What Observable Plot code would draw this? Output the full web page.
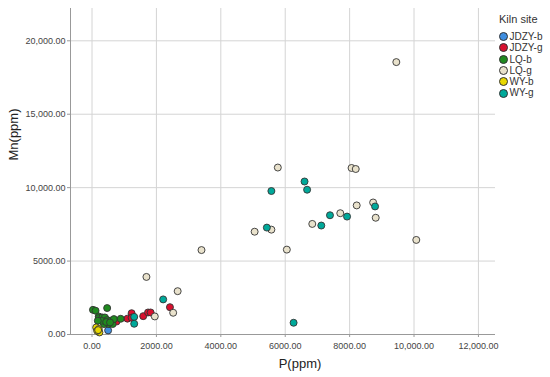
<!DOCTYPE html>
<html>
<head>
<meta charset="utf-8">
<script src="https://cdn.jsdelivr.net/npm/d3@7"></script>
<script src="https://cdn.jsdelivr.net/npm/@observablehq/plot@0.6"></script>
<style>
  html, body { margin: 0; padding: 0; background: #fff; }
  #wrap { position: relative; width: 550px; height: 377px; font-family: "Liberation Sans", Arial, sans-serif; }
  #legend { position: absolute; left: 499px; top: 13px; color: #333; }
  #legend .title { font-size: 11px; margin-bottom: 6px; }
  #legend .item { font-size: 10px; height: 11.3px; line-height: 11.3px; display: flex; align-items: center; }
  #legend .sw { width: 7px; height: 7px; border: 1px solid #333; border-radius: 50%; margin-right: 1.5px; box-sizing: content-box; }
</style>
</head>
<body>
<div id="wrap"></div>
<script>
// ---- data ----
const sites = ["JDZY-b", "JDZY-g", "LQ-b", "LQ-g", "WY-b", "WY-g"];
const siteColors = ["#3f8ee0", "#d8102e", "#1f8a1f", "#e9e2cc", "#e8d800", "#00a99a"];

const jdzyB = [[500, 280]];
const jdzyG = [[760, 880], [1100, 1080], [1230, 1450], [1230, 1140], [1590, 1250], [1740, 1500], [1820, 1500], [2420, 1860]];
const lqB = [[30, 1680], [110, 1620], [470, 1800], [210, 1230], [210, 1120], [320, 1160], [400, 1160], [470, 980], [575, 935],
             [520, 710], [640, 710], [370, 710], [290, 935], [180, 935], [680, 1050], [890, 1070], [440, 850], [560, 820]];
const lqG = [[1690, 3920], [2660, 2950], [2520, 1480], [1950, 1230], [3400, 5750], [5050, 7000], [5570, 7140], [5770, 11370],
             [6050, 5780], [6840, 7530], [7710, 8260], [8060, 11340], [8190, 11270], [8220, 8790], [8730, 8990], [8810, 7950],
             [10070, 6440], [9450, 18550]];
const wyB = [[130, 480], [210, 370], [230, 140], [160, 250], [190, 300]];
const wyG = [[1310, 1200], [1310, 730], [2210, 2390], [6260, 800], [5430, 7280], [5570, 9770], [6600, 10420], [6680, 9860],
             [7120, 7420], [7390, 8120], [7920, 8030], [8790, 8720]];

const xTicks = [0, 2000, 4000, 6000, 8000, 10000, 12000];
const xTickLabels = ["0.00", "2000.00", "4000.00", "6000.00", "8000.00", "10,000.00", "12,000.00"];
const yTicks = [0, 5000, 10000, 15000, 20000];
const yTickLabels = ["0.00", "5000.00", "10,000.00", "15,000.00", "20,000.00"];

const xLabel = "P(ppm)";
const yLabel = "Mn(ppm)";
const legendTitle = "Kiln site";

// ---- build ----
const seriesList = [jdzyB, jdzyG, lqB, lqG, wyB, wyG];
const data = [];
seriesList.forEach((s, i) => s.forEach(([x, y]) => data.push({site: sites[i], x, y})));

const xDomain = [-668, 12530];
const yDomain = [0, 22200];

const chart = Plot.plot({
  width: 550,
  height: 377,
  marginLeft: 70,
  marginRight: 55,
  marginTop: 8,
  marginBottom: 43,
  x: {domain: xDomain, label: null},
  y: {domain: yDomain, label: null},
  color: {domain: sites, range: siteColors},
  style: {fontFamily: "Liberation Sans, Arial, sans-serif", fontSize: "9px", color: "#444", background: "#fff"},
  marks: [
    Plot.gridX(xTicks, {stroke: "#d4d4d4", strokeOpacity: 1, strokeWidth: 1}),
    Plot.gridY(yTicks, {stroke: "#d4d4d4", strokeOpacity: 1, strokeWidth: 1}),
    Plot.axisX(xTicks, {tickFormat: (d, i) => xTickLabels[i], tickSize: 3, tickPadding: 5, stroke: "#999", fill: "#444", fontSize: 9}),
    Plot.axisY(yTicks, {tickFormat: (d, i) => yTickLabels[i], tickSize: 3, tickPadding: 2, stroke: "#999", fill: "#444", fontSize: 9}),
    Plot.ruleX([xDomain[0]], {stroke: "#999"}),
    Plot.ruleY([0], {stroke: "#999"}),
    Plot.dot(data, {x: "x", y: "y", fill: "site", stroke: "#333", strokeWidth: 0.9, r: 3.5}),
    Plot.text([xLabel], {frameAnchor: "bottom", dx: 17, dy: 33, fontSize: 13, fill: "#222"}),
    Plot.text([yLabel], {frameAnchor: "left", rotate: -90, dx: -57, dy: -11, fontSize: 13, fill: "#222"})
  ]
});

const wrap = document.getElementById("wrap");
wrap.appendChild(chart);

const legend = document.createElement("div");
legend.id = "legend";
let html = `<div class="title">${legendTitle}</div>`;
sites.forEach((s, i) => {
  html += `<div class="item"><span class="sw" style="background:${siteColors[i]}"></span>${s}</div>`;
});
legend.innerHTML = html;
wrap.appendChild(legend);
</script>
</body>
</html>
